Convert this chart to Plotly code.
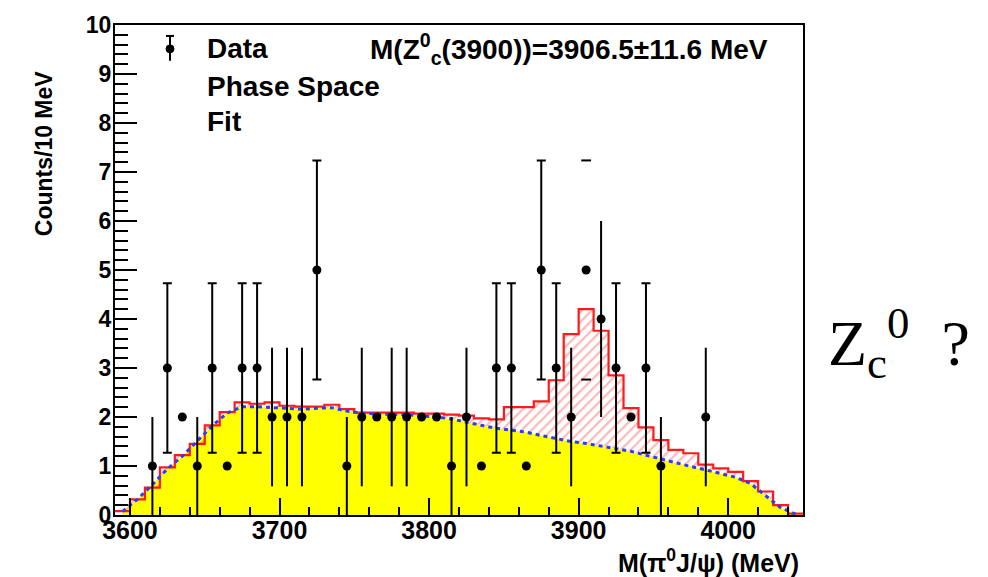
import math
import plotly.graph_objects as go

# ---------------- data ----------------
bin_centers = [3595, 3605, 3615, 3625, 3635, 3645, 3655, 3665, 3675, 3685,
               3695, 3705, 3715, 3725, 3735, 3745, 3755, 3765, 3775, 3785,
               3795, 3805, 3815, 3825, 3835, 3845, 3855, 3865, 3875, 3885,
               3895, 3905, 3915, 3925, 3935, 3945, 3955, 3965, 3975, 3985,
               3995, 4005, 4015, 4025, 4035, 4045]

phase_space = [0.07, 0.32, 0.62, 0.94, 1.20, 1.50, 1.82, 2.08, 2.21, 2.21,
               2.19, 2.17, 2.16, 2.18, 2.19, 2.12, 2.08, 2.06, 2.05, 2.05,
               2.02, 2.00, 1.96, 1.89, 1.83, 1.77, 1.73, 1.69, 1.62, 1.56,
               1.50, 1.46, 1.41, 1.35, 1.30, 1.22, 1.14, 1.07, 0.99, 0.92,
               0.85, 0.77, 0.64, 0.40, 0.15, 0.02]

fit_total = [0.08, 0.32, 0.56, 0.97, 1.22, 1.45, 1.83, 2.10, 2.30, 2.27,
             2.30, 2.23, 2.21, 2.21, 2.25, 2.16, 2.09, 2.09, 2.09, 2.09,
             2.07, 2.07, 2.05, 2.03, 1.97, 1.95, 2.20, 2.20, 2.32, 2.75,
             3.69, 4.20, 3.76, 2.85, 2.18, 1.79, 1.53, 1.33, 1.26, 1.03,
             0.95, 0.88, 0.69, 0.48, 0.20, 0.03]

counts = [0, 0, 1, 3, 2, 1, 3, 1, 3, 3,
          2, 2, 2, 5, 0, 1, 2, 2, 2, 2,
          2, 2, 1, 2, 1, 3, 3, 1, 5, 3,
          2, 5, 4, 3, 2, 3, 1, 0, 0, 2,
          0, 0, 0, 0, 0, 0]

# rendering quirks of the original picture (style, not data)
no_errbar_bins = [3635, 3665, 3765, 3795, 3805, 3835, 3865, 3905, 3935]
caps_only_bins = [3905]
capped_counts = [3, 5]

x_ticks = [3600, 3700, 3800, 3900, 4000]

# ---------------- geometry helpers ----------------
L, R, T, B = 115, 803, 22, 515
W, H = 988, 577


def px(x):
    return (x - L) / (R - L)


def py(y):
    return (B - y) / (B - T)


fig = go.Figure()

# yellow phase-space area
fig.add_trace(go.Scatter(
    x=bin_centers, y=phase_space, mode="lines",
    line=dict(width=0, color="#ffff00"),
    fill="tozeroy", fillcolor="#ffff00", hoverinfo="skip"))

# fit histogram (steps) with hatched signal region
edges = [c - 5 for c in bin_centers] + [bin_centers[-1] + 5]
fit_step = fit_total + [fit_total[-1]]
fig.add_trace(go.Scatter(
    x=edges, y=fit_step, mode="lines",
    line=dict(shape="hv", width=2.2, color="#ff1a1a"),
    fill="tonexty", fillcolor="rgba(0,0,0,0)",
    fillpattern=dict(shape="/", fgcolor="rgba(255,70,70,0.8)",
                     bgcolor="rgba(0,0,0,0)", size=7, solidity=0.3),
    hoverinfo="skip"))

# blue dotted phase-space curve
fig.add_trace(go.Scatter(
    x=bin_centers, y=phase_space, mode="lines",
    line=dict(color="#2a3cff", width=3, dash="4px,4px"), hoverinfo="skip"))

# data points
cap_x, cap_y, nocap_x, nocap_y, bare_x, bare_y = [], [], [], [], [], []
for c, n in zip(bin_centers, counts):
    if n <= 0:
        continue
    if c in no_errbar_bins:
        bare_x.append(c)
        bare_y.append(n)
    elif n in capped_counts:
        cap_x.append(c)
        cap_y.append(n)
    else:
        nocap_x.append(c)
        nocap_y.append(n)

marker = dict(color="black", size=9, symbol="circle")
fig.add_trace(go.Scatter(
    x=cap_x, y=cap_y, mode="markers", marker=marker,
    error_y=dict(type="data", array=[math.sqrt(v) for v in cap_y],
                 color="black", thickness=2, width=4.5)))
fig.add_trace(go.Scatter(
    x=nocap_x, y=nocap_y, mode="markers", marker=marker,
    error_y=dict(type="data", array=[math.sqrt(v) for v in nocap_y],
                 color="black", thickness=2, width=0)))
fig.add_trace(go.Scatter(x=bare_x, y=bare_y, mode="markers", marker=marker))

# lone error-bar caps of the point drawn without its bar
cx, cy = [], []
for c, n in zip(bin_centers, counts):
    if c in caps_only_bins:
        cx += [c, c]
        cy += [n - math.sqrt(n), n + math.sqrt(n)]
fig.add_trace(go.Scatter(
    x=cx, y=cy, mode="markers",
    marker=dict(symbol="line-ew", size=7, line=dict(color="black", width=2))))

axis_common = dict(
    showline=True, linecolor="black", linewidth=2, mirror=True,
    ticks="inside", tickcolor="black", tickwidth=2,
    showgrid=False, zeroline=False,
)

fig.update_layout(
    width=W, height=H,
    margin=dict(l=L, r=W - R, t=T, b=H - B),
    plot_bgcolor="white", paper_bgcolor="white",
    showlegend=False,
    xaxis=dict(
        range=[3590, 4050], tickvals=x_ticks, ticklen=17,
        ticklabelstandoff=-8,
        tickfont=dict(family="Liberation Sans", size=25, color="black",
                      weight="bold"),
        minor=dict(dtick=20, tick0=3600, ticks="inside", ticklen=8,
                   tickwidth=2, tickcolor="black", showgrid=False),
        **axis_common),
    yaxis=dict(
        range=[0, 10], dtick=1, tick0=0, ticklen=22,
        ticklabelstandoff=-3,
        tickfont=dict(family="Liberation Sans", size=23, color="black",
                      weight="bold"),
        minor=dict(dtick=0.2, tick0=0, ticks="inside", ticklen=13,
                   tickwidth=2, tickcolor="black", showgrid=False),
        **axis_common),
)

bold = dict(family="Liberation Sans", color="black", weight="bold")
ann = [
    dict(x=px(44), y=py(151), text="Counts/10 MeV", textangle=-90,
         xanchor="center", yanchor="middle", font=dict(size=23, **bold)),
    dict(x=px(801), y=py(561), text="M(π<sup>0</sup>J/ψ) (MeV)",
         xanchor="right", yanchor="middle", font=dict(size=25, **bold)),
    dict(x=px(205), y=py(46), text="Data", xanchor="left",
         yanchor="middle", font=dict(size=28, **bold)),
    dict(x=px(205), y=py(84), text="Phase Space", xanchor="left",
         yanchor="middle", font=dict(size=28, **bold)),
    dict(x=px(205), y=py(119), text="Fit", xanchor="left",
         yanchor="middle", font=dict(size=28, **bold)),
    dict(x=px(368), y=py(46),
         text="M(Z<sup>0</sup><sub>c</sub>(3900))=3906.5±11.6 MeV",
         xanchor="left", yanchor="middle", font=dict(size=28, **bold)),
    dict(x=px(826), y=py(342), text="Z<sub>c</sub><sup>0</sup>\u00a0\u00a0?",
         xanchor="left", yanchor="middle",
         font=dict(family="Liberation Serif", size=64, color="black")),
]
for a in ann:
    a.update(xref="paper", yref="paper", showarrow=False)
fig.update_layout(annotations=ann)

# legend symbol for "Data"
fig.add_shape(type="line", xref="paper", yref="paper",
              x0=px(170), x1=px(170), y0=py(33), y1=py(58),
              line=dict(color="black", width=2))
fig.add_shape(type="line", xref="paper", yref="paper",
              x0=px(166), x1=px(174), y0=py(33), y1=py(33),
              line=dict(color="black", width=2))
fig.add_shape(type="circle", xref="paper", yref="paper",
              x0=px(166), x1=px(174), y0=py(42), y1=py(50),
              fillcolor="black", line=dict(color="black", width=1))

fig.write_html("out.html")
